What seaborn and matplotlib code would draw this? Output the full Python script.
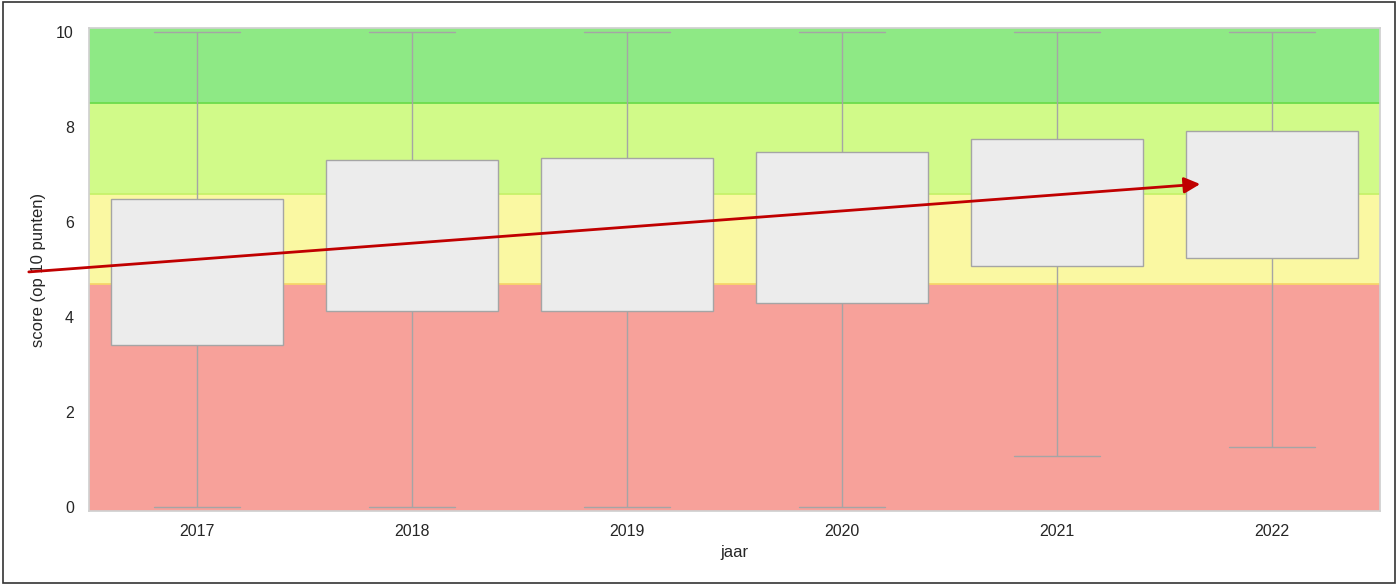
import numpy as np
import pandas as pd
import seaborn as sns
import matplotlib.pyplot as plt
from matplotlib.patches import Rectangle

# waarden
jaren = ["2017", "2018", "2019", "2020", "2021", "2022"]
minimum = [0.0, 0.0, 0.0, 0.0, 1.07, 1.26]
q1 = [3.41, 4.13, 4.13, 4.29, 5.07, 5.24]
mediaan = [5.0, 5.7, 5.7, 5.9, 6.4, 6.6]   # niet zichtbaar in de figuur
q3 = [6.48, 7.31, 7.35, 7.47, 7.75, 7.92]
maximum = [10.0, 10.0, 10.0, 10.0, 10.0, 10.0]

# grenzen van de gekleurde zones
grenzen = [4.7, 6.6, 8.5]
zone_kleuren = ["#f7a19a", "#faf8a2", "#d1fa89", "#8ee985"]
lijn_kleuren = ["#f6d66a", "#c6f26a", "#6cdc4c"]

# trendpijl (start en eind)
trend_start = (-0.78, 4.95)
trend_eind = (4.665, 6.8)

rows = []
for j, a, b, c, d, e in zip(jaren, minimum, q1, mediaan, q3, maximum):
    for v in (a, b, c, d, e):
        rows.append({"jaar": j, "score": v})
df = pd.DataFrame(rows)

sns.set_theme(style="whitegrid")
plt.rcParams["font.family"] = ["Liberation Sans", "DejaVu Sans"]

fig = plt.figure(figsize=(13.98, 5.85), dpi=100)
ax = fig.add_axes([0.0637, 0.1265, 0.9233, 0.8255])

# zones
onder = [-1] + grenzen
boven = grenzen + [11]
for lo, hi, kl in zip(onder, boven, zone_kleuren):
    ax.axhspan(lo, hi, color=kl, zorder=0, lw=0)
for g, kl in zip(grenzen, lijn_kleuren):
    ax.axhline(g, color=kl, lw=1.3, zorder=0.5)

sns.boxplot(
    data=df, x="jaar", y="score", order=jaren, ax=ax,
    color="#ececec", linecolor="#a5a5a5", linewidth=1.0,
    whis=(0, 100), width=0.8, saturation=1,
    medianprops={"visible": False},
)

ax.annotate(
    "", xy=trend_eind, xytext=trend_start, annotation_clip=False,
    arrowprops=dict(arrowstyle="-|>", color="#c00000", lw=2.0,
                    mutation_scale=24, shrinkA=0, shrinkB=0, clip_on=False),
    zorder=5,
)

ax.set_xlim(-0.5, 5.5)
ax.set_ylim(-0.085, 10.085)
ax.set_yticks([0, 2, 4, 6, 8, 10])
ax.grid(False)
ax.set_xlabel("jaar", fontsize=12)
ax.set_ylabel("score (op 10 punten)", fontsize=12, labelpad=7)
ax.tick_params(labelsize=11.5)
ax.tick_params(axis="y", pad=5)
for s in ax.spines.values():
    s.set_color("#d0d0d0")

fig.add_artist(Rectangle((0.002, 0.003), 0.996, 0.994, transform=fig.transFigure,
                         fill=False, edgecolor="#333333", lw=1.2))

plt.savefig("out.png", dpi=100)
